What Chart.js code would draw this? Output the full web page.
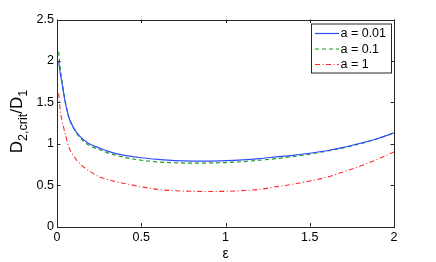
<!DOCTYPE html>
<html>
<head>
<meta charset="utf-8">
<script src="https://cdn.jsdelivr.net/npm/chart.js@4/dist/chart.umd.min.js"></script>
<style>
  html, body { margin: 0; padding: 0; background: #fff; }
  #wrap { width: 436px; height: 262px; position: relative; }
</style>
</head>
<body>
<div id="wrap"><canvas id="c" width="436" height="262"></canvas></div>
<script>
// ---- data ----
const eps = [0.01, 0.02, 0.03, 0.04, 0.05, 0.07, 0.1, 0.13, 0.17, 0.2, 0.25, 0.3, 0.35, 0.4, 0.5, 0.6, 0.7, 0.8, 0.9, 1.0, 1.1, 1.2, 1.3, 1.4, 1.5, 1.6, 1.7, 1.8, 1.9, 2.0];
const a001 = [1.99, 1.84, 1.73, 1.60, 1.49, 1.32, 1.19, 1.10, 1.03, 0.99, 0.95, 0.91, 0.88, 0.86, 0.83, 0.81, 0.795, 0.79, 0.79, 0.795, 0.805, 0.82, 0.84, 0.86, 0.885, 0.915, 0.955, 1.005, 1.06, 1.13];
const a01  = [2.11, 1.90, 1.75, 1.62, 1.50, 1.32, 1.18, 1.09, 1.01, 0.97, 0.93, 0.89, 0.86, 0.835, 0.80, 0.78, 0.77, 0.765, 0.767, 0.772, 0.783, 0.80, 0.82, 0.845, 0.875, 0.91, 0.95, 1.0, 1.06, 1.13];
const a1   = [1.61, 1.39, 1.28, 1.19, 1.11, 0.96, 0.85, 0.77, 0.70, 0.66, 0.60, 0.57, 0.54, 0.52, 0.48, 0.447, 0.432, 0.425, 0.423, 0.425, 0.433, 0.448, 0.48, 0.51, 0.55, 0.595, 0.66, 0.73, 0.81, 0.90];
const seriesLabels = ["a = 0.01", "a = 0.1", "a = 1"];
const xTicks = [0, 0.5, 1, 1.5, 2];
const xTickLabels = ["0", "0.5", "1", "1.5", "2"];
const yTicks = [0, 0.5, 1, 1.5, 2, 2.5];
const yTickLabels = ["0", "0.5", "1", "1.5", "2", "2.5"];
const xTitle = "ε";

const FONT = "'Liberation Sans', Arial, Helvetica, sans-serif";
const AXIS = "#262626";

function pts(ys) { return eps.map((x, i) => ({ x: x, y: ys[i] })); }

const framePlugin = {
  id: 'frame',
  afterDatasetsDraw(chart) {
    const { ctx, chartArea: a, scales } = chart;
    ctx.save();
    ctx.strokeStyle = AXIS;
    ctx.lineWidth = 1;
    ctx.strokeRect(Math.round(a.left) + 0.5, Math.round(a.top) + 0.5, Math.round(a.right - a.left), Math.round(a.bottom - a.top));
    const L = 3.5;
    ctx.beginPath();
    xTicks.forEach(v => {
      const px = Math.round(scales.x.getPixelForValue(v)) + 0.5;
      ctx.moveTo(px, a.bottom); ctx.lineTo(px, a.bottom - L);
      ctx.moveTo(px, a.top); ctx.lineTo(px, a.top + L);
    });
    yTicks.forEach(v => {
      const py = Math.round(scales.y.getPixelForValue(v)) + 0.5;
      ctx.moveTo(a.left, py); ctx.lineTo(a.left + L, py);
      ctx.moveTo(a.right, py); ctx.lineTo(a.right - L, py);
    });
    ctx.stroke();

    // legend box
    const bx = 311, by = 23.5, bw = 80, bh = 49;
    ctx.fillStyle = '#fff';
    ctx.fillRect(bx, by, bw, bh);
    ctx.strokeRect(bx + 0.5, by + 0.5, bw, bh);
    const rows = [33.5, 49, 64.5];
    chart.data.datasets.forEach((ds, i) => {
      ctx.save();
      ctx.strokeStyle = ds.borderColor;
      ctx.lineWidth = ds.borderWidth;
      ctx.setLineDash(ds.borderDash || []);
      ctx.beginPath();
      ctx.moveTo(315, rows[i]); ctx.lineTo(339, rows[i]);
      ctx.stroke();
      ctx.restore();
      ctx.fillStyle = '#000';
      ctx.font = '12.5px ' + FONT;
      ctx.textBaseline = 'middle';
      ctx.textAlign = 'left';
      ctx.fillText(ds.label, 340.5, rows[i] + 0.5);
    });

    // y-axis title with subscripts
    ctx.save();
    ctx.translate(21.5, 121.5);
    ctx.rotate(-Math.PI / 2);
    ctx.fillStyle = '#000';
    ctx.textBaseline = 'alphabetic';
    ctx.textAlign = 'left';
    const parts = [
      { t: 'D', s: 17, dy: 0 },
      { t: '2,crit', s: 12.5, dy: 5 },
      { t: '/D', s: 17, dy: 0 },
      { t: '1', s: 12.5, dy: 5 }
    ];
    let total = 0;
    parts.forEach(p => { ctx.font = p.s + 'px ' + FONT; p.w = ctx.measureText(p.t).width; total += p.w; });
    let x = -total / 2;
    parts.forEach(p => { ctx.font = p.s + 'px ' + FONT; ctx.fillText(p.t, x, p.dy); x += p.w; });
    ctx.restore();
    ctx.restore();
  }
};

new Chart(document.getElementById('c'), {
  type: 'scatter',
  data: {
    datasets: [
      { label: seriesLabels[0], data: pts(a001), showLine: true, borderColor: '#2f4cff', borderWidth: 1.2, pointRadius: 0, cubicInterpolationMode: 'monotone' },
      { label: seriesLabels[1], data: pts(a01), showLine: true, borderColor: '#1f9a1f', borderWidth: 1.2, borderDash: [4, 3], pointRadius: 0, cubicInterpolationMode: 'monotone' },
      { label: seriesLabels[2], data: pts(a1), showLine: true, borderColor: '#ff2a2a', borderWidth: 1.1, borderDash: [5, 2.5, 1, 2.5], pointRadius: 0, cubicInterpolationMode: 'monotone' }
    ]
  },
  options: {
    responsive: false,
    animation: false,
    devicePixelRatio: 1,
    layout: { padding: { top: 19.5, right: 42, left: 0, bottom: 0 } },
    plugins: { legend: { display: false }, tooltip: { enabled: false } },
    scales: {
      x: {
        type: 'linear', min: 0, max: 2,
        afterBuildTicks: s => { s.ticks = xTicks.map(v => ({ value: v })); },
        grid: { display: false, drawTicks: false },
        border: { display: false },
        ticks: { color: '#000', padding: 4, font: { family: FONT, size: 12.5 }, maxRotation: 0,
                 callback: (v, i) => xTickLabels[i] },
        title: { display: true, text: xTitle, color: '#000', font: { family: FONT, size: 14 }, padding: { top: 0, bottom: -1 } },
        afterFit: s => { s.height = 35.5; }
      },
      y: {
        type: 'linear', min: 0, max: 2.5,
        afterBuildTicks: s => { s.ticks = yTicks.map(v => ({ value: v })); },
        grid: { display: false, drawTicks: false },
        border: { display: false },
        ticks: { color: '#000', padding: 3, font: { family: FONT, size: 12.5 },
                 callback: (v, i) => yTickLabels[i] },
        afterFit: s => { s.width = 57; }
      }
    }
  },
  plugins: [framePlugin]
});
</script>
</body>
</html>
